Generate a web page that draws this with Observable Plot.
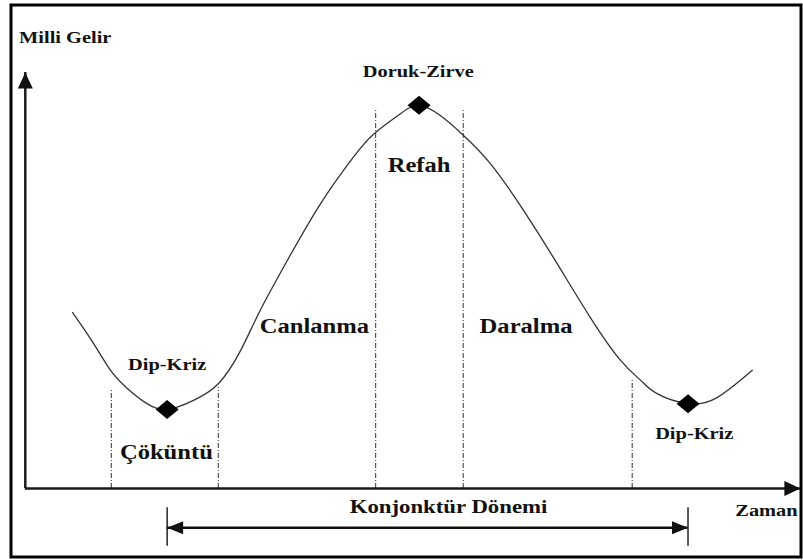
<!DOCTYPE html>
<html>
<head>
<meta charset="utf-8">
<script src="https://cdn.jsdelivr.net/npm/d3@7"></script>
<script src="https://cdn.jsdelivr.net/npm/@observablehq/plot@0.6"></script>
<style>
html, body { margin: 0; padding: 0; background: #fff; }
#chart { width: 803px; height: 560px; }
#chart svg text { font-family: "Liberation Serif", "Times New Roman", serif !important; font-weight: bold; }
</style>
</head>
<body>
<div id="chart"></div>
<script>
// Business cycle: national income (0–100) over time (0–100)
const curveT = [6.1, 8.8, 11.0, 13.2, 15.7, 18.3, 21.7, 24.9, 27.7, 30.3, 33.8, 38.1, 42.3, 45.0, 48.4, 50.8, 53.5, 56.4, 60.0, 64.3, 68.6, 72.9, 76.8, 79.4, 81.5, 85.5, 89.3, 93.8];
const curveV = [42.3, 34.9, 28.4, 24.0, 20.4, 19.0, 21.2, 25.2, 32.9, 42.8, 54.8, 68.5, 79.6, 85.3, 90.1, 92.1, 89.7, 85.1, 78.1, 66.8, 54.1, 41.1, 30.8, 26.0, 22.8, 20.4, 21.9, 28.4];

// phase boundaries (dashed lines)
const phaseT   = [11.1, 24.9, 45.2, 56.5, 78.3];
const phaseTop = [24.0, 24.3, 91.3, 90.9, 26.0];

// turning points (diamonds)
const turnT = [18.3, 50.8, 85.5];
const turnV = [19.0, 92.1, 20.4];

// small point labels
const pointLabels = ["Doruk-Zirve", "Dip-Kriz", "Dip-Kriz"];
const pointLabelT = [50.7, 18.3, 86.3];
const pointLabelV = [99.0, 28.4, 11.8];

// phase names
const phaseLabels = ["Refah", "Canlanma", "Daralma", "Çöküntü"];
const phaseLabelT = [50.8, 37.3, 64.6, 18.2];
const phaseLabelV = [76.0, 37.3, 37.3, 7.2];

// axis titles
const axisLabels = ["Milli Gelir", "Zaman"];
const axisLabelT = [-0.8, 91.6];
const axisLabelV = [107.2, -6.5];

// cycle period bracket
const periodLabel = "Konjonktür Dönemi";
const periodLabelT = 54.6;
const periodLabelV = -6.0;
const cycleStart = 18.3, cycleEnd = 85.5;
const bracketV = -9.4, bracketTickLow = -13.9, bracketTickHigh = -4.6;

// axes extents
const axisMax = 100;

const curve = curveT.map((t, i) => ({t, v: curveV[i]}));
const phases = phaseT.map((t, i) => ({t, top: phaseTop[i]}));
const turns = turnT.map((t, i) => ({t, v: turnV[i]}));
const pts = pointLabels.map((label, i) => ({label, t: pointLabelT[i], v: pointLabelV[i]}));
const phs = phaseLabels.map((label, i) => ({label, t: phaseLabelT[i], v: phaseLabelV[i]}));
const axl = axisLabels.map((label, i) => ({label, t: axisLabelT[i], v: axisLabelV[i]}));

// symbols
function arrowHead(dir, L, W) {
  return {
    draw(ctx) {
      if (dir === "up") { ctx.moveTo(0, 0); ctx.lineTo(-W / 2, L); ctx.lineTo(W / 2, L); }
      else if (dir === "right") { ctx.moveTo(0, 0); ctx.lineTo(-L, -W / 2); ctx.lineTo(-L, W / 2); }
      else { ctx.moveTo(0, 0); ctx.lineTo(L, -W / 2); ctx.lineTo(L, W / 2); }
      ctx.closePath();
    }
  };
}
const diamond = {
  draw(ctx) {
    ctx.moveTo(0, -9.5); ctx.lineTo(11.5, 0); ctx.lineTo(0, 9.5); ctx.lineTo(-11.5, 0); ctx.closePath();
  }
};

const ink = "#111";
const serif = "'Liberation Serif', 'Times New Roman', serif";

const chart = Plot.plot({
  width: 803,
  height: 560,
  margin: 0,
  x: {domain: [-3.2, 100.4], axis: null},
  y: {domain: [-17.3, 117.3], axis: null},
  style: {background: "#fff", fontFamily: serif},
  marks: [
    Plot.frame({stroke: "#000", strokeWidth: 3, insetLeft: 10.5, insetTop: 4.5, insetRight: 2.5, insetBottom: 3.5}),
    // phase boundaries
    Plot.ruleX(phases, {x: "t", y1: 0, y2: "top", stroke: "#444", strokeWidth: 1.1, strokeDasharray: "5,2,1,2"}),
    // cycle curve
    Plot.line(curve, {x: "t", y: "v", curve: "natural", stroke: "#333", strokeWidth: 1.3}),
    // axes
    Plot.ruleX([0], {y1: 0, y2: axisMax, stroke: "#1a1a1a", strokeWidth: 2.5}),
    Plot.ruleY([0], {x1: 0, x2: axisMax, stroke: "#1a1a1a", strokeWidth: 2.5}),
    Plot.dot([{t: 0, v: axisMax}], {x: "t", y: "v", symbol: arrowHead("up", 16, 15), fill: ink, stroke: "none"}),
    Plot.dot([{t: axisMax, v: 0}], {x: "t", y: "v", symbol: arrowHead("right", 16, 15), fill: ink, stroke: "none"}),
    // period bracket
    Plot.ruleY([bracketV], {x1: cycleStart, x2: cycleEnd, stroke: "#111", strokeWidth: 2.5}),
    Plot.ruleX([cycleStart, cycleEnd], {y1: bracketTickLow, y2: bracketTickHigh, stroke: "#222", strokeWidth: 1.5}),
    Plot.dot([{t: cycleStart, v: bracketV}], {x: "t", y: "v", symbol: arrowHead("left", 16, 13), fill: ink, stroke: "none"}),
    Plot.dot([{t: cycleEnd, v: bracketV}], {x: "t", y: "v", symbol: arrowHead("right", 16, 13), fill: ink, stroke: "none"}),
    // turning points
    Plot.dot(turns, {x: "t", y: "v", symbol: diamond, fill: "#000", stroke: "none"}),
    // labels
    Plot.text(pts, {x: "t", y: "v", text: "label", fontSize: 17, fill: ink, lineAnchor: "bottom", textAnchor: "middle"}),
    Plot.text(phs, {x: "t", y: "v", text: "label", fontSize: 20.5, fill: ink, lineAnchor: "bottom", textAnchor: "middle"}),
    Plot.text(axl, {x: "t", y: "v", text: "label", fontSize: 17, fill: ink, lineAnchor: "bottom", textAnchor: "start"}),
    Plot.text([{label: periodLabel, t: periodLabelT, v: periodLabelV}], {x: "t", y: "v", text: "label", fontSize: 19, fill: ink, lineAnchor: "bottom", textAnchor: "middle"})
  ]
});

// widen lettering horizontally like the reference, and force the serif face
chart.querySelectorAll("text").forEach(el => {
  const tr = el.getAttribute("transform");
  if (tr && tr.includes("translate")) {
    el.setAttribute("transform", tr + " scale(1.2,1)");
  } else {
    const x = +(el.getAttribute("x") || 0), y = +(el.getAttribute("y") || 0);
    el.removeAttribute("x"); el.removeAttribute("y");
    el.setAttribute("transform", `translate(${x},${y}) scale(1.2,1)`);
  }
  el.setAttribute("font-family", serif);
  el.style.fontFamily = serif;
  el.style.fontWeight = "bold";
});
chart.querySelectorAll("g").forEach(g => {
  if (g.getAttribute("font-family")) g.setAttribute("font-family", serif);
});

document.getElementById("chart").appendChild(chart);
</script>
</body>
</html>
